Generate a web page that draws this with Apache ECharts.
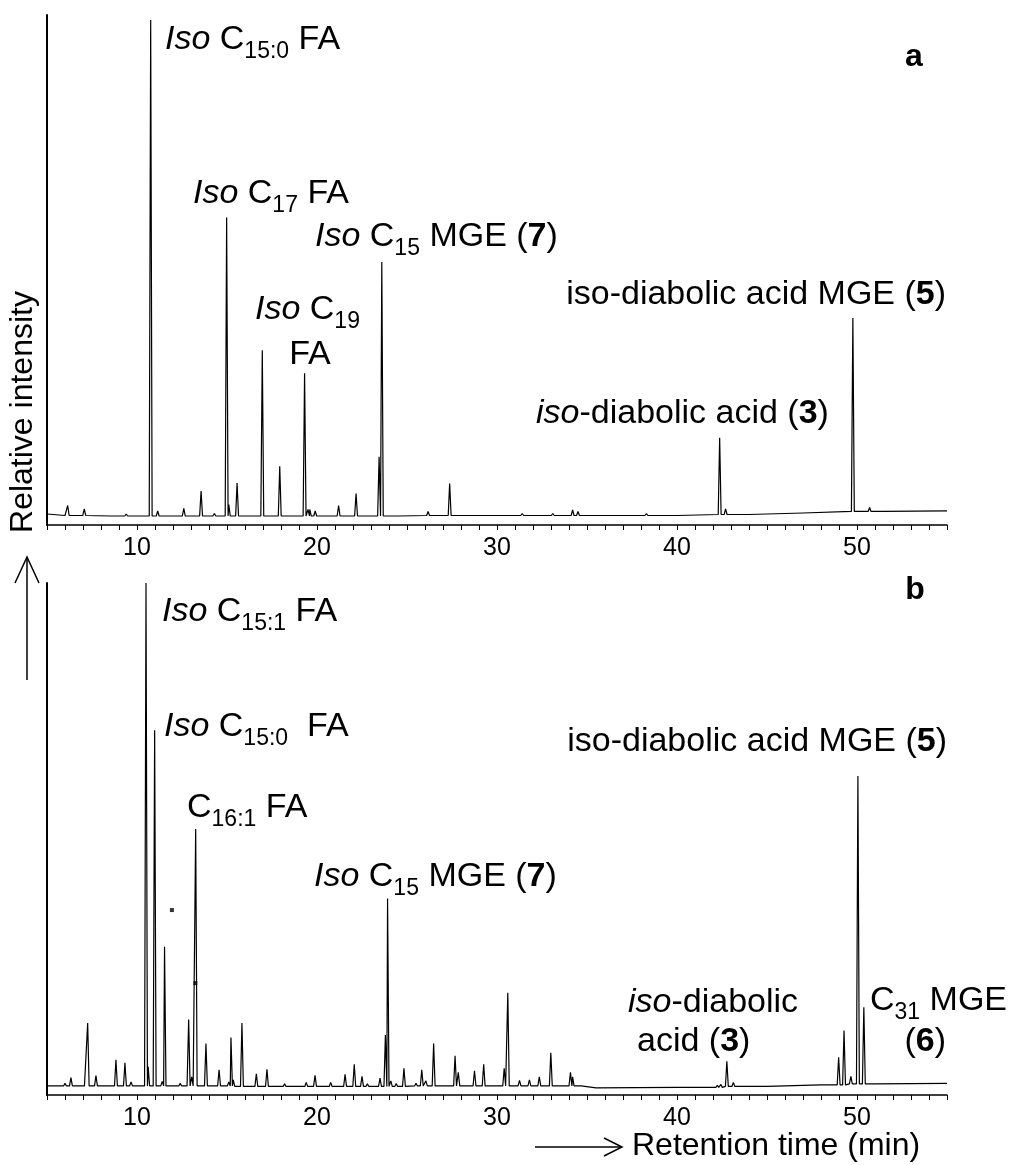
<!DOCTYPE html>
<html>
<head>
<meta charset="utf-8">
<title>Chromatograms a / b</title>
<script src="https://cdn.jsdelivr.net/npm/echarts@6/dist/echarts.min.js"></script>
<style>
  html, body { margin: 0; padding: 0; background: #fff; }
  #chart { width: 1011px; height: 1165px; }
</style>
</head>
<body>
<div id="chart"></div>
<script>
// x axis tick labels (retention time, min)
const xTickLabels = [10, 20, 30, 40, 50]

// panel a: baseline drift [time, value] and peaks (time, height above baseline)
const baselineA = [[5, 0.004], [6, 0.001], [10.3, 0], [20.5, 0], [30, 0.001], [40, 0.001], [44, 0.003], [47, 0.006], [51.5, 0.009], [55, 0.01]]
const peakTimesA = [6.15, 7.07, 8.6, 9.4, 10.76, 11.15, 12.6, 13.56, 14.3, 14.98, 15.1, 15.56, 16.96, 17.93, 19.31, 19.5, 19.6, 19.9, 21.2, 22.17, 23.45, 23.6, 24.5, 26.17, 27.37, 31.0, 31.4, 33.1, 33.5, 34.2, 34.5, 36.8, 37.8, 38.3, 42.37, 42.7, 49.77, 50.7]
const peakHeightsA = [0.02, 0.013, 0.003, 0.004, 0.99, 0.01, 0.015, 0.05, 0.005, 0.596, 0.023, 0.066, 0.331, 0.099, 0.285, 0.013, 0.013, 0.01, 0.021, 0.045, 0.118, 0.507, 0.003, 0.008, 0.064, 0.003, 0.004, 0.004, 0.003, 0.011, 0.008, 0.003, 0.003, 0.004, 0.153, 0.011, 0.386, 0.008]

// panel b
const baselineB = [[5, 0.002], [10.2, 0.002], [20.3, 0.001], [30, 0.002], [34.4, 0.002], [35.5, -0.002], [40, -0.001], [45, 0.001], [48, 0.004], [51, 0.006], [55, 0.007]]
const peakTimesB = [6.0, 6.33, 7.0, 7.26, 7.72, 8.83, 9.33, 9.67, 10.5, 10.62, 10.98, 11.4, 11.53, 12.4, 12.7, 12.87, 13.04, 13.26, 13.83, 14.56, 15.1, 15.22, 15.35, 15.83, 16.63, 17.22, 18.2, 19.4, 19.89, 20.76, 21.56, 22.07, 22.5, 22.8, 23.5, 23.8, 23.92, 24.1, 24.4, 24.83, 25.5, 25.82, 26.05, 26.48, 27.67, 27.85, 28.75, 29.26, 30.4, 30.6, 31.25, 31.8, 32.35, 32.99, 34.08, 34.2, 34.6, 42.24, 42.44, 42.77, 43.13, 43.5, 48.98, 49.28, 49.66, 50.05, 50.38]
const peakHeightsB = [0.005, 0.0165, 0.003, 0.125, 0.0205, 0.052, 0.046, 0.008, 0.998, 0.038, 0.706, 0.009, 0.276, 0.005, 0.003, 0.132, 0.018, 0.51, 0.084, 0.032, 0.008, 0.096, 0.013, 0.126, 0.025, 0.034, 0.005, 0.008, 0.022, 0.008, 0.024, 0.044, 0.02, 0.005, 0.0165, 0.102, 0.373, 0.011, 0.006, 0.036, 0.005, 0.032, 0.01, 0.084, 0.06, 0.027, 0.03, 0.043, 0.035, 0.185, 0.011, 0.012, 0.018, 0.066, 0.027, 0.018, 0.003, 0.004, 0.006, 0.05, 0.008, 0.003, 0.055, 0.108, 0.015, 0.611, 0.152]
const strayDotsB = [[11.94, 0.351], [13.24, 0.206]]

const FONT = 'Liberation Sans, Arial, sans-serif'
const HALF_WIDTH = 0.08 // peak half width at base (min)

// nearest baseline knot value (no interpolation)
function baseAt(base, t) {
  let best = base[0]
  for (const k of base) {
    if (Math.abs(k[0] - t) < Math.abs(best[0] - t)) best = k
  }
  return best[1]
}

function buildTrace(base, times, heights) {
  const groups = base.map((k) => ({ t: k[0], pts: [[k[0], k[1]]] }))
  times.forEach((t, i) => {
    const b = baseAt(base, t)
    groups.push({ t, pts: [[t - HALF_WIDTH, b], [t, b + heights[i]], [t + HALF_WIDTH, b]] })
  })
  groups.sort((a, b) => a.t - b.t)
  const out = []
  groups.forEach((g) => out.push(...g.pts))
  return out
}

// rich text styles: normal, italic, bold, subscript (pushed down with top padding)
const rich = {
  n: { fontSize: 34, lineHeight: 34, verticalAlign: 'top', fontFamily: FONT, color: '#000' },
  i: { fontSize: 34, lineHeight: 34, verticalAlign: 'top', fontFamily: FONT, color: '#000', fontStyle: 'italic' },
  b: { fontSize: 34, lineHeight: 34, verticalAlign: 'top', fontFamily: FONT, color: '#000', fontWeight: 'bold' },
  s: { fontSize: 23, lineHeight: 34, verticalAlign: 'top', fontFamily: FONT, color: '#000', padding: [17, 0, 0, 0] },
}

function label(x, y, text, align) {
  return {
    type: 'text',
    x,
    y,
    style: { text, rich, align: align || 'left', verticalAlign: 'top' },
  }
}

function xAxisOf(grid) {
  return {
    type: 'value',
    gridIndex: grid,
    min: 5,
    max: 55,
    interval: 1,
    axisLine: { show: true, onZero: false, lineStyle: { color: '#000', width: 1.5 } },
    axisTick: { show: true, length: 5, lineStyle: { color: '#000', width: 1 } },
    axisLabel: {
      formatter: (v) => (xTickLabels.includes(v) ? String(v) : ''),
      fontSize: 25,
      fontFamily: FONT,
      color: '#000',
      margin: 11,
    },
    splitLine: { show: false },
  }
}

function yAxisOf(grid, min) {
  return {
    type: 'value',
    gridIndex: grid,
    min,
    max: 1,
    axisLine: { show: true, onZero: false, lineStyle: { color: '#000', width: 2 } },
    axisTick: { show: false },
    axisLabel: { show: false },
    splitLine: { show: false },
  }
}

const chart = echarts.init(document.getElementById('chart'), null, { renderer: 'canvas' })
chart.setOption({
  animation: false,
  backgroundColor: '#fff',
  grid: [
    { left: 47, top: 15, width: 900, height: 510, outerBoundsMode: 'none' },
    { left: 47, top: 583, width: 900, height: 512, outerBoundsMode: 'none' },
  ],
  xAxis: [xAxisOf(0), xAxisOf(1)],
  yAxis: [yAxisOf(0, -0.018), yAxisOf(1, -0.016)],
  series: [
    {
      type: 'line',
      xAxisIndex: 0,
      yAxisIndex: 0,
      data: buildTrace(baselineA, peakTimesA, peakHeightsA),
      showSymbol: false,
      lineStyle: { color: '#000', width: 1.2 },
    },
    {
      type: 'line',
      xAxisIndex: 1,
      yAxisIndex: 1,
      data: buildTrace(baselineB, peakTimesB, peakHeightsB),
      showSymbol: false,
      lineStyle: { color: '#000', width: 1.2 },
    },
    {
      type: 'scatter',
      xAxisIndex: 1,
      yAxisIndex: 1,
      data: strayDotsB,
      symbol: 'rect',
      symbolSize: 4,
      itemStyle: { color: '#000' },
    },
  ],
  graphic: [
    // panel a
    label(165, 23, '{i|Iso}{n| C}{s|15:0}{n| FA}'),
    label(193, 177, '{i|Iso}{n| C}{s|17}{n| FA}'),
    label(255, 293, '{i|Iso}{n| C}{s|19}'),
    label(310, 338, '{n|FA}', 'center'),
    label(315, 220, '{i|Iso}{n| C}{s|15}{n| MGE (}{b|7}{n|)}'),
    label(946, 278, '{n|iso-diabolic acid MGE (}{b|5}{n|)}', 'right'),
    label(536, 397, '{i|iso}{n|-diabolic acid (}{b|3}{n|)}'),
    { type: 'text', x: 914, y: 57, style: { text: 'a', font: 'bold 32px ' + FONT, fill: '#000', align: 'center', verticalAlign: 'middle' } },
    // panel b
    label(162, 595, '{i|Iso}{n| C}{s|15:1}{n| FA}'),
    label(164, 710, '{i|Iso}{n| C}{s|15:0}{n|  FA}'),
    label(187, 791, '{n|C}{s|16:1}{n| FA}'),
    label(314, 860, '{i|Iso}{n| C}{s|15}{n| MGE (}{b|7}{n|)}'),
    label(947, 725, '{n|iso-diabolic acid MGE (}{b|5}{n|)}', 'right'),
    label(628, 986, '{i|iso}{n|-diabolic}'),
    label(637, 1025, '{n|acid (}{b|3}{n|)}'),
    label(870, 984, '{n|C}{s|31}{n| MGE}'),
    label(946, 1025, '{n|(}{b|6}{n|)}', 'right'),
    { type: 'text', x: 915, y: 590, style: { text: 'b', font: 'bold 32px ' + FONT, fill: '#000', align: 'center', verticalAlign: 'middle' } },
    // axis titles with arrows
    { type: 'text', x: 632, y: 1146, style: { text: 'Retention time (min)', font: '32px ' + FONT, fill: '#000', align: 'left', verticalAlign: 'middle' } },
    { type: 'polyline', shape: { points: [[535, 1147], [622, 1147]] }, style: { stroke: '#000', lineWidth: 1.5, fill: null } },
    { type: 'polyline', shape: { points: [[604, 1138], [622, 1147], [604, 1156]] }, style: { stroke: '#000', lineWidth: 1.5, fill: null } },
    { type: 'text', x: 23, y: 412, rotation: Math.PI / 2, style: { text: 'Relative intensity', font: '32px ' + FONT, fill: '#000', align: 'center', verticalAlign: 'middle' } },
    { type: 'polyline', shape: { points: [[27, 680], [27, 557]] }, style: { stroke: '#000', lineWidth: 1.5, fill: null } },
    { type: 'polyline', shape: { points: [[15, 583], [27, 557], [39, 583]] }, style: { stroke: '#000', lineWidth: 1.5, fill: null } },
  ],
})
</script>
</body>
</html>
